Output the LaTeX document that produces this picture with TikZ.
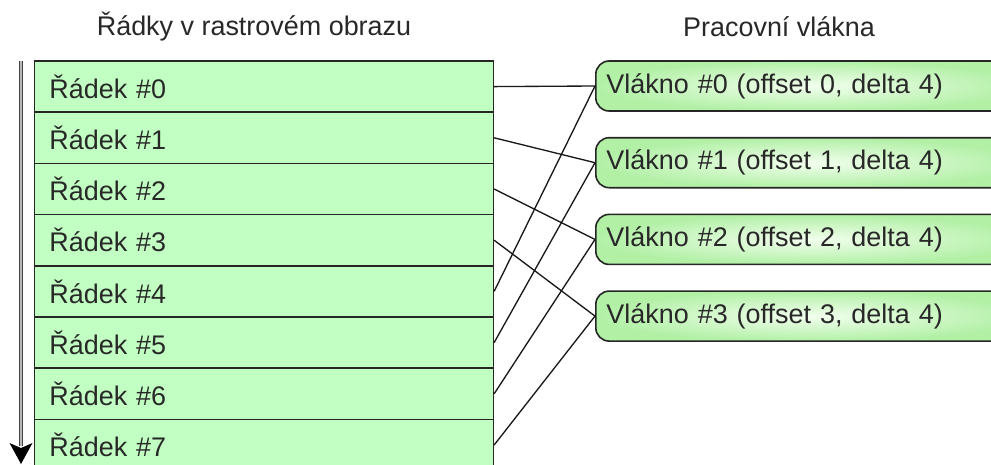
\documentclass[tikz,border=0pt]{standalone}
\usepackage{fontspec}
\setmainfont{Liberation Sans}
\usepackage{xcolor}
\definecolor{rowgreen}{RGB}{194,255,194}
\definecolor{thredge}{RGB}{178,240,166}
\definecolor{thrcore}{RGB}{242,255,238}
\definecolor{inkgray}{RGB}{40,40,40}
\tikzset{rowbox/.style={draw=black!85, line width=1.1pt, fill=rowgreen, anchor=west,
    minimum height=38.4pt, text width=322pt, inner xsep=11pt, align=left, text=inkgray,
    font=\fontsize{20.2}{23}\selectfont},
  thrbox/.style={draw=black!85, line width=1.2pt, rounded corners=10pt, anchor=west,
    inner color=thrcore, outer color=thredge, minimum height=37.5pt, text width=306pt,
    inner xsep=8pt, align=left, text=inkgray, font=\fontsize{20.2}{23}\selectfont},
  link/.style={black!90, line width=1pt},
  heading/.style={font=\fontsize{20.2}{23}\selectfont, text=inkgray}}

\begin{document}
\begin{tikzpicture}[x=0.75pt,y=-0.75pt]
    \useasboundingbox (0,0) rectangle (991,464);
    \clip (0,0) rectangle (991,464);
    \node[heading] (hrows) at (254,27) {Řádky v rastrovém obrazu};
    \node[heading] (hthr) at (779,27) {Pracovní vlákna};
    \foreach \i in {0,...,7}
        \node[rowbox] (r\i) at (34,{86.6+51.2*\i}) {Řádek \#\i};
    \foreach \i in {0,...,3}
        \node[thrbox] (t\i) at (595,{86+76.7*\i}) {Vlákno \#\i\ (offset \i, delta 4)};
    \foreach \i in {0,...,7} {
        \pgfmathtruncatemacro\k{mod(\i,4)}
        \draw[link] (r\i.east) -- (t\k.west);
    }
    \coordinate (atop) at (21,61);
    \coordinate (abot) at (21,446);
    \coordinate (atip) at (21,464);
    \draw[draw=black!75, double=gray!55, double distance=1.8pt, line width=0.6pt] (atop) -- (abot);
    \fill[black] (atip) -- ++(-11.5,-21) -- ++(11.5,5) -- ++(11.5,-5) -- cycle;
\end{tikzpicture}
\end{document}
